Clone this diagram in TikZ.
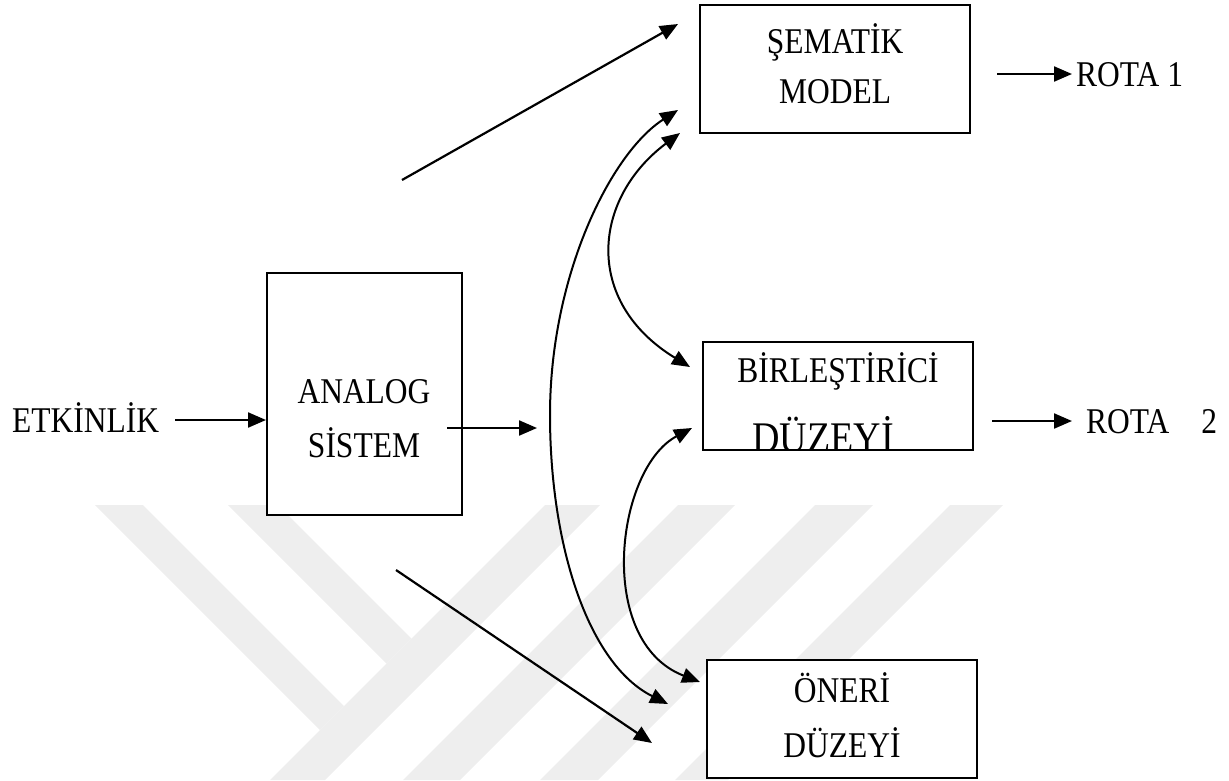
\documentclass[tikz,border=0pt]{standalone}
\usepackage{fontspec}
\usepackage{graphicx}
\setmainfont{Liberation Serif}
\usetikzlibrary{arrows.meta}
\definecolor{wm}{RGB}{238,238,238}
\newcommand{\tallt}[1]{\scalebox{1}[1.15]{#1}}
\tikzset{
  box/.style={draw=black, line width=2pt, fill=white, inner sep=0pt},
  lbl/.style={inner sep=0pt, font=\fontsize{31.5}{36}\selectfont},
  biglbl/.style={inner sep=0pt, font=\fontsize{38}{40}\selectfont},
  arr/.style={line width=2.2pt, -{Triangle[length=18pt,width=15pt]}},
  darr/.style={line width=2pt, {Triangle[length=18pt,width=15pt]}-{Triangle[length=18pt,width=15pt]}},
  wmark/.style={fill=wm, draw=none}
}
\begin{document}
\begin{tikzpicture}[x=1pt,y=-1pt]
\useasboundingbox (0,0) rectangle (1229,780);
% watermark (background logo)
\fill[wmark] (545,505) -- (600,505) -- (325,780) -- (270,780) -- cycle;
\fill[wmark] (95,505) -- (143,505) -- (344,706) -- (320,730) -- cycle;
\fill[wmark] (228,505) -- (278,505) -- (411.5,638.5) -- (386.5,663.5) -- cycle;
\fill[wmark] (678,505) -- (735,505) -- (460,780) -- (403,780) -- cycle;
\fill[wmark] (815,505) -- (873,505) -- (598,780) -- (540,780) -- cycle;
\fill[wmark] (950,505) -- (1003,505) -- (728,780) -- (675,780) -- cycle;

% boxes
\node[box, minimum width=270pt, minimum height=128pt] (sem) at (835,69) {};
\node[box, minimum width=195pt, minimum height=242pt] (ana) at (364.5,394) {};
\node[box, minimum width=270pt, minimum height=108pt] (bir) at (838,396) {};
\node[box, minimum width=270pt, minimum height=118pt] (one) at (842,719) {};

% texts
\node[lbl, anchor=base] (sem1) at (835,53) {\tallt{ŞEMATİK}};
\node[lbl, anchor=base] (sem2) at (835,103) {\tallt{MODEL}};
\node[lbl, anchor=base] (ana1) at (364,403) {\tallt{ANALOG}};
\node[lbl, anchor=base] (ana2) at (364,457) {\tallt{SİSTEM}};
\node[lbl, anchor=base] (bir1) at (838,382) {\tallt{BİRLEŞTİRİCİ}};
\begin{scope}
\clip (704,343) rectangle (972,448);
\node[biglbl, anchor=base] (bir2) at (823,452) {\tallt{DÜZEYİ}};
\end{scope}
\node[lbl, anchor=base] (one1) at (842,702) {\tallt{ÖNERİ}};
\node[lbl, anchor=base] (one2) at (842,757) {\tallt{DÜZEYİ}};
\node[lbl, anchor=base west] (etk) at (12,432) {\tallt{ETKİNLİK}};
\node[lbl, anchor=base west] (rota1) at (1076,86) {\tallt{ROTA 1}};
\node[lbl, anchor=base west] (rota2) at (1086,433) {\tallt{ROTA\hspace{24pt} 2}};

% connector end points
\coordinate (etkA) at (175,420);
\coordinate (anaA) at (447,428);
\coordinate (anaB) at (537,428);
\coordinate (upA) at (402,180);
\coordinate (upB) at (678,24);
\coordinate (dnA) at (396,570);
\coordinate (dnB) at (652,743);
\coordinate (c1a) at (678,110);
\coordinate (c1m) at (550,415);
\coordinate (c1b) at (668,704);
\coordinate (c2a) at (680,133);
\coordinate (c2b) at (690,367);
\coordinate (c3a) at (692,428);
\coordinate (c3b) at (700,682);
\coordinate (r1a) at (997,74);
\coordinate (r1b) at (1072,74);
\coordinate (r2a) at (992,421);
\coordinate (r2b) at (1072,421);

% connectors
\draw[arr] (etkA) -- (etkA -| ana.west);
\draw[arr] (anaA) -- (anaB);
\draw[arr] (upA) -- (upB);
\draw[arr] (dnA) -- (dnB);
\draw[darr] (c1a) .. controls (611,153) and (550,275) .. (c1m)
  .. controls (550,545) and (588,664) .. (c1b);
\draw[darr] (c2a) .. controls (592.5,198.6) and (582.7,301.4) .. (c2b);
\draw[darr] (c3a) .. controls (615.8,468.7) and (594.9,641.3) .. (c3b);
\draw[arr] (r1a) -- (r1b);
\draw[arr] (r2a) -- (r2b);
\end{tikzpicture}
\end{document}
